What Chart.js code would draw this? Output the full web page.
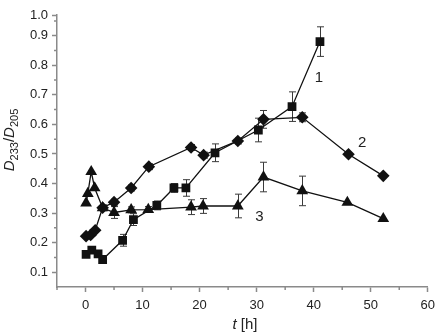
<!DOCTYPE html>
<html>
<head>
<meta charset="utf-8">
<script src="https://cdn.jsdelivr.net/npm/chart.js@4/dist/chart.umd.min.js"></script>
<style>
  html, body { margin: 0; padding: 0; background: #fff; }
</style>
</head>
<body>
<canvas id="myChart" width="441" height="334"></canvas>
<script>
// Curve 1 (squares)
const sqTime = [0.1, 1.1, 2.2, 3.0, 6.5, 8.4, 12.5, 15.5, 17.6, 22.7, 30.3, 36.2, 41.1];
const sqRatio = [0.160, 0.175, 0.162, 0.143, 0.208, 0.278, 0.326, 0.385, 0.385, 0.504, 0.581, 0.660, 0.880];
const sqErr = [0, 0, 0, 0, 0.02, 0.02, 0.015, 0.015, 0.028, 0.03, 0.04, 0.05, 0.05];

// Curve 2 (diamonds)
const diTime = [0.1, 0.9, 1.7, 3.0, 5.0, 8.0, 11.1, 18.5, 20.7, 26.7, 31.2, 38.0, 46.1, 52.2];
const diRatio = [0.222, 0.226, 0.242, 0.318, 0.337, 0.385, 0.457, 0.522, 0.496, 0.544, 0.617, 0.624, 0.499, 0.426];
const diErr = [0, 0, 0, 0.01, 0.01, 0.01, 0.01, 0.01, 0.01, 0.01, 0.03, 0.015, 0, 0];

// Curve 3 (triangles)
const trTime = [0.1, 0.4, 1.0, 1.6, 3.0, 5.0, 8.0, 11.0, 18.5, 20.6, 26.7, 31.2, 38.0, 45.9, 52.2];
const trRatio = [0.334, 0.366, 0.440, 0.385, 0.318, 0.302, 0.311, 0.312, 0.320, 0.324, 0.324, 0.422, 0.375, 0.336, 0.281];
const trErr = [0, 0, 0, 0, 0, 0.02, 0.01, 0.01, 0.025, 0.025, 0.04, 0.05, 0.05, 0, 0];

// Tick values
const xTicks = [0, 10, 20, 30, 40, 50, 60];
const xMinorTicks = [-5, 5, 15, 25, 35, 45, 55];
const yTicks = [0.1, 0.2, 0.3, 0.4, 0.5, 0.6, 0.7, 0.8, 0.9, 0.97];
const yMinorTicks = [0.15, 0.25, 0.35, 0.45, 0.55, 0.65, 0.75, 0.85, 0.95];

// Curve number labels [x, y, text]
const curveLabels = [[40.9, 0.759, '1'], [48.5, 0.538, '2'], [30.5, 0.287, '3']];

const FONT = "'Liberation Sans', Arial, sans-serif";
const AXIS_GRAY = '#8a8a8a';

function toPoints(xs, ys) {
  return xs.map((x, i) => ({ x: x, y: ys[i] }));
}

// error bars drawn under the markers
const errorBars = {
  id: 'errorBars',
  beforeDatasetsDraw(chart) {
    const ctx = chart.ctx;
    const xs = chart.scales.x, ys = chart.scales.y;
    ctx.save();
    ctx.strokeStyle = '#3a3a3a';
    ctx.lineWidth = 1;
    chart.data.datasets.forEach(ds => {
      ds.data.forEach((p, i) => {
        const e = ds.errors[i];
        if (!e) return;
        const px = Math.round(xs.getPixelForValue(p.x)) + 0.5;
        const top = ys.getPixelForValue(p.y + e);
        const bot = ys.getPixelForValue(p.y - e);
        ctx.beginPath();
        ctx.moveTo(px, top); ctx.lineTo(px, bot);
        ctx.moveTo(px - 3.5, top); ctx.lineTo(px + 3.5, top);
        ctx.moveTo(px - 3.5, bot); ctx.lineTo(px + 3.5, bot);
        ctx.stroke();
      });
    });
    ctx.restore();
  }
};

// minor ticks, axis titles and curve numbers
const decorations = {
  id: 'decorations',
  afterDraw(chart) {
    const ctx = chart.ctx;
    const xs = chart.scales.x, ys = chart.scales.y;
    const area = chart.chartArea;
    ctx.save();
    ctx.strokeStyle = AXIS_GRAY;
    ctx.lineWidth = 1.5;
    ctx.beginPath();
    xMinorTicks.forEach(v => {
      const px = xs.getPixelForValue(v);
      ctx.moveTo(px, area.bottom); ctx.lineTo(px, area.bottom + 3);
    });
    yMinorTicks.forEach(v => {
      const py = ys.getPixelForValue(v);
      ctx.moveTo(area.left, py); ctx.lineTo(area.left - 3, py);
    });
    ctx.stroke();

    // curve numbers
    ctx.fillStyle = '#222';
    ctx.font = '15px ' + FONT;
    ctx.textAlign = 'center';
    ctx.textBaseline = 'middle';
    curveLabels.forEach(([x, y, t]) => {
      ctx.fillText(t, xs.getPixelForValue(x), ys.getPixelForValue(y));
    });

    // x title: t [h]
    ctx.textBaseline = 'alphabetic';
    ctx.textAlign = 'left';
    const itF = 'italic 15px ' + FONT, rgF = '15px ' + FONT;
    ctx.font = itF; const wT = ctx.measureText('t').width;
    ctx.font = rgF; const wH = ctx.measureText(' [h]').width;
    let sx = 245 - (wT + wH) / 2;
    ctx.font = itF; ctx.fillText('t', sx, 329);
    ctx.font = rgF; ctx.fillText(' [h]', sx + wT, 329);

    // y title: D233/D205
    const parts = [
      ['D', 'italic 15px ' + FONT, 0],
      ['233', '11px ' + FONT, 4],
      ['/', '15px ' + FONT, 0],
      ['D', 'italic 15px ' + FONT, 0],
      ['205', '11px ' + FONT, 4]
    ];
    let total = 0;
    parts.forEach(p => { ctx.font = p[1]; p.push(ctx.measureText(p[0]).width); total += p[3]; });
    ctx.translate(0, 140);
    ctx.rotate(-Math.PI / 2);
    let cx = -total / 2;
    parts.forEach(p => {
      ctx.font = p[1];
      ctx.fillText(p[0], cx, 14 + p[2]);
      cx += p[3];
    });
    ctx.restore();
  }
};

const lineStyle = {
  showLine: true,
  borderColor: '#111',
  borderWidth: 1.3,
  backgroundColor: '#111',
  pointBackgroundColor: '#111',
  pointBorderColor: '#111',
  pointBorderWidth: 0,
  tension: 0
};

const ctx = document.getElementById('myChart').getContext('2d');
new Chart(ctx, {
  type: 'scatter',
  data: {
    datasets: [
      Object.assign({ label: '3', data: toPoints(trTime, trRatio), errors: trErr,
        pointStyle: 'triangle', pointRadius: 6.8 }, lineStyle),
      Object.assign({ label: '2', data: toPoints(diTime, diRatio), errors: diErr,
        pointStyle: 'rectRot', pointRadius: 6.3 }, lineStyle),
      Object.assign({ label: '1', data: toPoints(sqTime, sqRatio), errors: sqErr,
        pointStyle: 'rect', pointRadius: 6.2 }, lineStyle)
    ]
  },
  options: {
    responsive: false,
    animation: false,
    layout: { padding: { top: 15, right: 6, left: 0, bottom: 0 } },
    plugins: {
      legend: { display: false },
      tooltip: { enabled: false }
    },
    scales: {
      x: {
        type: 'linear',
        min: -5,
        max: 60,
        afterBuildTicks: scale => { scale.ticks = xTicks.map(v => ({ value: v })); },
        afterFit: scale => { scale.height = 47; },
        grid: { drawOnChartArea: false, drawTicks: true, tickLength: 5, tickColor: AXIS_GRAY, tickWidth: 1.5 },
        border: { color: AXIS_GRAY, width: 1.5 },
        ticks: { color: '#222', font: { family: FONT, size: 13 }, padding: 6, maxRotation: 0 }
      },
      y: {
        type: 'linear',
        min: 0.05,
        max: 0.97,
        afterBuildTicks: scale => { scale.ticks = yTicks.map(v => ({ value: v })); },
        afterFit: scale => { scale.width = 57; },
        grid: { drawOnChartArea: false, drawTicks: true, tickLength: 5, tickColor: AXIS_GRAY, tickWidth: 1.5 },
        border: { color: AXIS_GRAY, width: 1.5 },
        ticks: {
          color: '#222',
          font: { family: FONT, size: 13 },
          padding: 4,
          callback: v => (v > 0.96 ? '1.0' : v.toFixed(1))
        }
      }
    }
  },
  plugins: [errorBars, decorations]
});
</script>
</body>
</html>
